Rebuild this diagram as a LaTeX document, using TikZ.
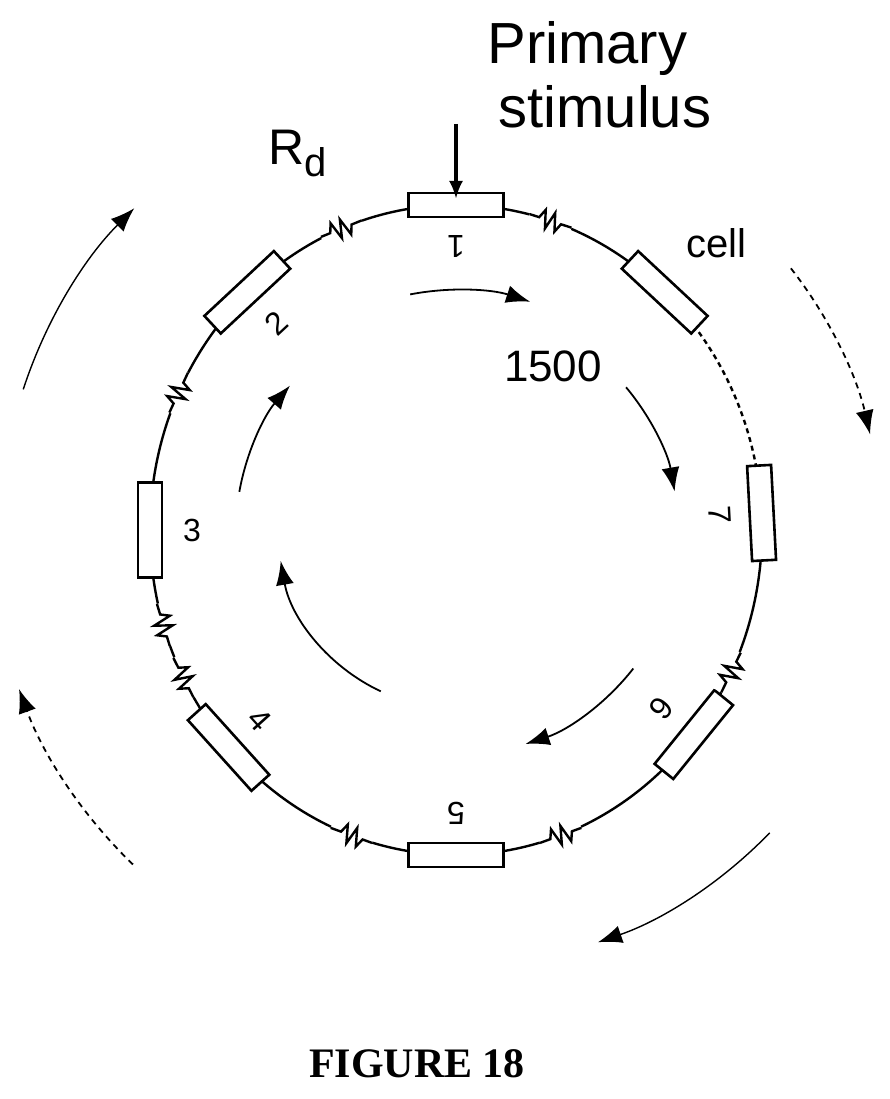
\documentclass[tikz,border=0pt]{standalone}
\usepackage{fontspec}
\setmainfont{Liberation Serif}
\newfontfamily\sans{Liberation Sans}
\usetikzlibrary{arrows.meta}
\begin{document}
\begin{tikzpicture}[x=1pt,y=1pt,line width=2.4pt,
  cellbox/.style={draw,fill=white,minimum width=95pt,minimum height=24pt,inner sep=0pt,line width=2.6pt},
  num/.style={font=\sans\fontsize{32}{32}\selectfont},
  flow/.style={line width=1.8pt,-{Latex[length=24pt,width=18pt]}},
  flowd/.style={flow,dash pattern=on 6pt off 5pt}]
\useasboundingbox (0,0) rectangle (890,1099);
\coordinate (c) at (456,569);
\draw ([shift={(c)}]0:306pt and 325pt) arc[start angle=0,end angle=360,x radius=306pt,y radius=325pt];
% dashed segment between cell and 7
\draw[white,line width=4pt] ([shift={(c)}]44:306pt and 325pt) arc[start angle=44,end angle=6,x radius=306pt,y radius=325pt];
\draw[dash pattern=on 5pt off 4pt] ([shift={(c)}]44:306pt and 325pt) arc[start angle=44,end angle=6,x radius=306pt,y radius=325pt];
% cells
\foreach \a/\n/\l/\r in {90/c1/1/180,47/c8//0,133/c2/2/43,180/c3/3/0,222/c4/4/-48,270/c5/5/180,321/c6/6/231,3/c7/7/273}{
  \node[cellbox,rotate=\a-90] (\n) at ([shift={(c)}]\a:306pt and 325pt) {};
  \node[num,rotate=\r] (\n l) at ([shift={(c)}]\a:264pt and 283pt) {\l};
}
% resistors
\foreach \a/\n in {72/r1,112/r2,155/r3,197/r4,207/r5,250/r6,290/r7,334/r8}{
  \coordinate (\n) at ([shift={(c)}]\a:306pt and 325pt);
  \begin{scope}[shift={(\n)},rotate=\a-90]
    \fill[white] (-22,-9) rectangle (22,9);
    \draw (-22,0)--(-12,0)--(-8,9)--(-3,-9)--(2,9)--(7,-9)--(11,0)--(22,0);
  \end{scope}
}
% labels
\node[font=\sans\fontsize{58}{58}\selectfont,anchor=west] (pri) at (483,1050) {Primary};
\node[font=\sans\fontsize{58}{58}\selectfont,anchor=west] (sti) at (494,992) {stimulus};
\coordinate (stimEnd) at (456,900);
\draw[line width=3.4pt,-{Latex[length=18pt,width=14pt]}] (456,975) -- (stimEnd);
\node[font=\sans\fontsize{50}{50}\selectfont] (rd) at (298,945) {R\raisebox{-12pt}{\fontsize{40}{40}\selectfont d}};
\node[font=\sans\fontsize{40}{40}\selectfont] (cell) at (716,856) {cell};
\node[font=\sans\fontsize{44}{44}\selectfont] (n1500) at (553,733) {1500};
\node[font=\bfseries\fontsize{42}{42}\selectfont] (fig) at (417,35) {FIGURE 18};
% inner arrows
\draw[flow] ([shift={(c)}]101:240pt) arc[start angle=101,end angle=72,radius=240pt];
\draw[flow] ([shift={(c)}]40:222pt) arc[start angle=40,end angle=10,radius=222pt];
\draw[flow] ([shift={(c)}]-38:225pt) arc[start angle=-38,end angle=-72,radius=225pt];
\draw[flow] ([shift={(c)}]245:178pt) arc[start angle=245,end angle=190,radius=178pt];
\draw[flow] ([shift={(c)}]170:220pt) arc[start angle=170,end angle=139,radius=220pt];
% outer arrows
\draw[flow,line width=1.4pt] ([shift={(c)}]162:455pt) arc[start angle=162,end angle=135,radius=455pt];
\draw[flowd] ([shift={(c)}]38:425pt) arc[start angle=38,end angle=13,radius=425pt];
\draw[flow,line width=1.4pt] ([shift={(c)}]-44:436pt) arc[start angle=-44,end angle=-71,radius=436pt];
\draw[flowd] ([shift={(c)}]226:465pt) arc[start angle=226,end angle=200,radius=465pt];
\end{tikzpicture}
\end{document}
